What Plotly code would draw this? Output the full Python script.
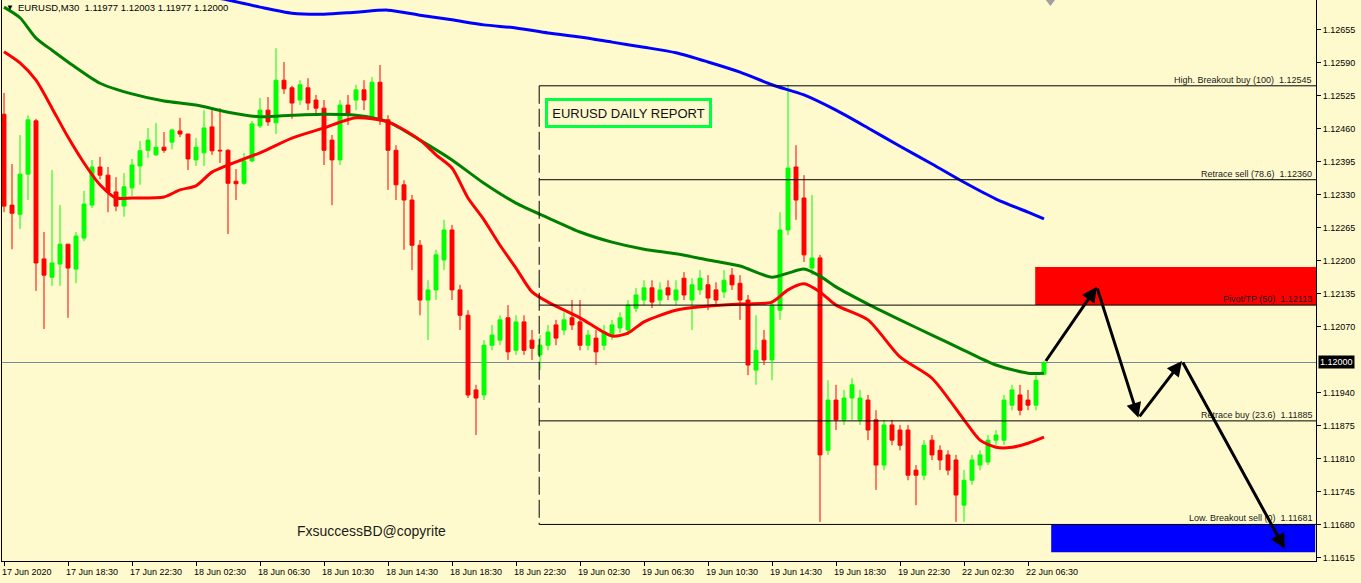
import plotly.graph_objects as go

# ---------------- data ----------------
bars = list(range(131))
tick_bars = [0, 8, 16, 24, 32, 40, 48, 56, 64, 72, 80, 88, 96, 104, 112, 120, 128]
tick_labels = ["17 Jun 2020", "17 Jun 18:30", "17 Jun 22:30", "18 Jun 02:30", "18 Jun 06:30",
               "18 Jun 10:30", "18 Jun 14:30", "18 Jun 18:30", "18 Jun 22:30", "19 Jun 02:30",
               "19 Jun 06:30", "19 Jun 10:30", "19 Jun 14:30", "19 Jun 18:30", "19 Jun 22:30",
               "22 Jun 02:30", "22 Jun 06:30"]
price_ticks = [1.12655, 1.12590, 1.12525, 1.12460, 1.12395, 1.12330, 1.12265, 1.12200, 1.12135,
               1.12070, 1.11940, 1.11875, 1.11810, 1.11745, 1.11680, 1.11615]

opens = [1.12489, 1.12310, 1.12292, 1.12371, 1.12476, 1.12204, 1.12168, 1.12194, 1.12233, 1.12184,
         1.12245, 1.12310, 1.12385, 1.12369, 1.12336, 1.12308, 1.12344, 1.12387, 1.12418, 1.12409,
         1.12424, 1.12434, 1.12456, 1.12450, 1.12399, 1.12413, 1.12464, 1.12418, 1.12418, 1.12357,
         1.12353, 1.12397, 1.12466, 1.12497, 1.12472, 1.12556, 1.12541, 1.12517, 1.12541, 1.12517,
         1.12501, 1.12438, 1.12399, 1.12507, 1.12517, 1.12537, 1.12482, 1.12552, 1.12478, 1.12418,
         1.12350, 1.12320, 1.12231, 1.12123, 1.12143, 1.12202, 1.12261, 1.12143, 1.12093, 1.11946,
         1.11936, 1.12034, 1.12044, 1.12088, 1.12024, 1.12080, 1.12044, 1.12015, 1.12034, 1.12074,
         1.12064, 1.12088, 1.12080, 1.12034, 1.12048, 1.12034, 1.12054, 1.12068, 1.12064, 1.12107,
         1.12123, 1.12147, 1.12123, 1.12147, 1.12123, 1.12166, 1.12123, 1.12143, 1.12153, 1.12143,
         1.12139, 1.12172, 1.12156, 1.12123, 1.11985, 1.12044, 1.12005, 1.12103, 1.12261, 1.12385,
         1.12324, 1.12186, 1.12206, 1.11827, 1.11926, 1.11887, 1.11930, 1.11887, 1.11926, 1.11887,
         1.11798, 1.11877, 1.11867, 1.11867, 1.11788, 1.11778, 1.11847, 1.11827, 1.11818, 1.11808,
         1.11719, 1.11768, 1.11798, 1.11804, 1.11847, 1.11847, 1.11916, 1.11936, 1.11926, 1.11916,
         1.11977]
highs = [1.12531, 1.12391, 1.12448, 1.12487, 1.12480, 1.12257, 1.12379, 1.12310, 1.12233, 1.12257,
         1.12338, 1.12399, 1.12405, 1.12385, 1.12365, 1.12373, 1.12401, 1.12436, 1.12462, 1.12472,
         1.12454, 1.12460, 1.12482, 1.12450, 1.12442, 1.12497, 1.12497, 1.12501, 1.12420, 1.12381,
         1.12413, 1.12476, 1.12521, 1.12523, 1.12619, 1.12592, 1.12545, 1.12556, 1.12560, 1.12527,
         1.12517, 1.12448, 1.12517, 1.12527, 1.12547, 1.12556, 1.12562, 1.12586, 1.12487, 1.12428,
         1.12359, 1.12330, 1.12241, 1.12162, 1.12222, 1.12281, 1.12271, 1.12153, 1.12103, 1.11956,
         1.12044, 1.12074, 1.12093, 1.12113, 1.12093, 1.12093, 1.12064, 1.12054, 1.12074, 1.12084,
         1.12099, 1.12123, 1.12123, 1.12064, 1.12064, 1.12074, 1.12084, 1.12099, 1.12123, 1.12147,
         1.12162, 1.12162, 1.12158, 1.12162, 1.12162, 1.12178, 1.12166, 1.12182, 1.12172, 1.12158,
         1.12182, 1.12186, 1.12172, 1.12133, 1.12093, 1.12064, 1.12123, 1.12296, 1.12547, 1.12428,
         1.12369, 1.12330, 1.12212, 1.11965, 1.11956, 1.11946, 1.11969, 1.11946, 1.11936, 1.11906,
         1.11887, 1.11887, 1.11877, 1.11877, 1.11798, 1.11847, 1.11857, 1.11837, 1.11827, 1.11818,
         1.11788, 1.11818, 1.11827, 1.11857, 1.11867, 1.11936, 1.11956, 1.11956, 1.11946, 1.11975,
         1.12003]
lows = [1.12296, 1.12223, 1.12263, 1.12320, 1.12141, 1.12066, 1.12151, 1.12151, 1.12088, 1.12156,
        1.12239, 1.12304, 1.12361, 1.12296, 1.12298, 1.12287, 1.12328, 1.12350, 1.12403, 1.12407,
        1.12413, 1.12420, 1.12444, 1.12379, 1.12387, 1.12387, 1.12409, 1.12393, 1.12253, 1.12320,
        1.12350, 1.12395, 1.12462, 1.12466, 1.12450, 1.12529, 1.12480, 1.12507, 1.12497, 1.12487,
        1.12389, 1.12310, 1.12389, 1.12468, 1.12497, 1.12497, 1.12478, 1.12468, 1.12340, 1.12320,
        1.12222, 1.12182, 1.12093, 1.12044, 1.12123, 1.12182, 1.12123, 1.12064, 1.11930, 1.11857,
        1.11926, 1.12024, 1.12034, 1.12005, 1.12015, 1.12015, 1.12005, 1.11985, 1.12024, 1.12034,
        1.12054, 1.12064, 1.12024, 1.12024, 1.11995, 1.12024, 1.12044, 1.12058, 1.12054, 1.12099,
        1.12113, 1.12107, 1.12113, 1.12123, 1.12113, 1.12123, 1.12064, 1.12133, 1.12103, 1.12113,
        1.12127, 1.12143, 1.12084, 1.11975, 1.11956, 1.11995, 1.11965, 1.12084, 1.12251, 1.12281,
        1.12198, 1.12172, 1.11686, 1.11818, 1.11867, 1.11877, 1.11887, 1.11877, 1.11847, 1.11749,
        1.11788, 1.11837, 1.11827, 1.11768, 1.11719, 1.11768, 1.11808, 1.11788, 1.11778, 1.11686,
        1.11686, 1.11759, 1.11788, 1.11798, 1.11837, 1.11837, 1.11906, 1.11896, 1.11906, 1.11906,
        1.11977]
closes = [1.12308, 1.12294, 1.12371, 1.12478, 1.12196, 1.12172, 1.12196, 1.12233, 1.12186, 1.12249,
          1.12312, 1.12385, 1.12369, 1.12336, 1.12308, 1.12346, 1.12389, 1.12417, 1.12438, 1.12424,
          1.12418, 1.12458, 1.12450, 1.12401, 1.12424, 1.12462, 1.12417, 1.12417, 1.12353, 1.12352,
          1.12397, 1.12470, 1.12497, 1.12474, 1.12556, 1.12539, 1.12511, 1.12547, 1.12511, 1.12501,
          1.12418, 1.12399, 1.12507, 1.12487, 1.12537, 1.12517, 1.12552, 1.12478, 1.12418, 1.12350,
          1.12320, 1.12231, 1.12123, 1.12143, 1.12212, 1.12261, 1.12143, 1.12093, 1.11936, 1.11930,
          1.12034, 1.12054, 1.12084, 1.12021, 1.12080, 1.12024, 1.12028, 1.12034, 1.12060, 1.12048,
          1.12084, 1.12074, 1.12034, 1.12054, 1.12021, 1.12060, 1.12074, 1.12088, 1.12113, 1.12133,
          1.12147, 1.12119, 1.12143, 1.12133, 1.12143, 1.12133, 1.12153, 1.12166, 1.12127, 1.12123,
          1.12162, 1.12153, 1.12123, 1.11995, 1.12024, 1.12005, 1.12113, 1.12261, 1.12383, 1.12320,
          1.12212, 1.12206, 1.11818, 1.11926, 1.11887, 1.11930, 1.11956, 1.11930, 1.11867, 1.11798,
          1.11877, 1.11847, 1.11837, 1.11778, 1.11778, 1.11837, 1.11818, 1.11808, 1.11788, 1.11739,
          1.11768, 1.11808, 1.11818, 1.11847, 1.11857, 1.11926, 1.11946, 1.11906, 1.11916, 1.11965,
          1.12000]

red_ma_bars = [0, 2, 4, 6, 8, 10, 12, 14, 16, 20, 22, 24, 26, 28, 32, 36, 40, 44, 48, 52, 54, 56, 58,
               60, 62, 64, 66, 68, 72, 76, 78, 80, 84, 88, 92, 96, 98, 100, 102, 104, 108, 112, 116,
               120, 122, 124, 126, 128, 130]
red_ma = [1.12612, 1.12590, 1.12556, 1.12501, 1.12444, 1.12393, 1.12350, 1.12324, 1.12324, 1.12326,
          1.12340, 1.12348, 1.12375, 1.12389, 1.12413, 1.12442, 1.12462, 1.12482, 1.12474, 1.12438,
          1.12409, 1.12383, 1.12324, 1.12281, 1.12231, 1.12186, 1.12139, 1.12119, 1.12088, 1.12052,
          1.12058, 1.12080, 1.12103, 1.12111, 1.12115, 1.12119, 1.12143, 1.12155, 1.12139, 1.12113,
          1.12084, 1.12011, 1.11969, 1.11887, 1.11847, 1.11833, 1.11833, 1.11841, 1.11853]
green_ma_bars = [0, 2, 4, 6, 8, 12, 16, 20, 24, 28, 32, 36, 40, 44, 48, 52, 56, 60, 64, 68, 72, 76, 80,
                 84, 88, 92, 96, 98, 100, 102, 104, 108, 112, 116, 120, 124, 128, 130]
green_ma = [1.12700, 1.12679, 1.12639, 1.12615, 1.12592, 1.12550, 1.12529, 1.12515, 1.12507, 1.12493,
            1.12484, 1.12487, 1.12489, 1.12487, 1.12474, 1.12438, 1.12399, 1.12353, 1.12314, 1.12285,
            1.12257, 1.12237, 1.12223, 1.12214, 1.12202, 1.12190, 1.12168, 1.12176, 1.12184, 1.12170,
            1.12149, 1.12115, 1.12084, 1.12054, 1.12024, 1.11995, 1.11979, 1.11979]
blue_ma_bars = [0, 8, 16, 24, 28, 32, 36, 40, 44, 48, 52, 56, 60, 64, 68, 72, 76, 80, 84, 88, 92, 96,
                100, 104, 108, 112, 116, 120, 124, 128, 130]
blue_ma = [1.12793, 1.12773, 1.12753, 1.12726, 1.12714, 1.12700, 1.12688, 1.12686, 1.12690, 1.12694,
           1.12684, 1.12675, 1.12665, 1.12659, 1.12649, 1.12641, 1.12631, 1.12621, 1.12610, 1.12592,
           1.12572, 1.12547, 1.12527, 1.12497, 1.12462, 1.12426, 1.12391, 1.12355, 1.12322, 1.12296,
           1.12283]

fib_levels = [1.12545, 1.12360, 1.12113, 1.11885, 1.11681]
fib_names = ["High. Breakout buy (100)", "Retrace sell (78.6)", "Pivot/TP (50)",
             "Retrace buy (23.6)", "Low. Breakout sell (0)"]
fib_start_bar = 66.9

sell_zone_bars = [128.9, 164.0]
sell_zone_prices = [1.12113, 1.12188]
buy_zone_bars = [130.9, 163.9]
buy_zone_prices = [1.11626, 1.11681]

path_bars = [130.1, 136.6, 141.8, 147.25, 160.1]
path_prices = [1.12000, 1.12149, 1.11891, 1.12003, 1.11633]

bid_price = 1.12000
header = "EURUSD,M30  1.11977 1.12003 1.11977 1.12000"
report_text = "EURUSD DAILY REPORT"
report_pos = (78.06, 1.12491)
copyright_text = "FxsuccessBD@copyrite"
copyright_pos = (45.9, 1.11668)

X_RANGE = [-0.25, 164.0]
Y_RANGE = [1.11609, 1.12714]

BG = "#FFFACD"
FONT = "Liberation Sans"

# ---------------- figure ----------------
fig = go.Figure()

fig.add_trace(go.Candlestick(
    x=bars, open=opens, high=highs, low=lows, close=closes,
    increasing=dict(line=dict(color="#00FF00", width=1), fillcolor="#00FF00"),
    decreasing=dict(line=dict(color="#FF0000", width=1), fillcolor="#FF0000"),
    whiskerwidth=0, showlegend=False, hoverinfo="skip"))

for xs, ys, col in [(blue_ma_bars, blue_ma, "#0000FF"),
                    (green_ma_bars, green_ma, "#008000"),
                    (red_ma_bars, red_ma, "#FF0000")]:
    fig.add_trace(go.Scatter(x=xs, y=ys, mode="lines",
                             line=dict(color=col, width=3, shape="spline", smoothing=0.7),
                             showlegend=False, hoverinfo="skip"))

# shift marker at the top
fig.add_trace(go.Scatter(x=[130.8], y=[Y_RANGE[1]], mode="markers",
                         marker=dict(symbol="triangle-down", size=12, color="#A0A0A0"),
                         cliponaxis=False, showlegend=False, hoverinfo="skip"))

shapes = []
shapes.append(dict(type="rect", xref="x", yref="y", x0=sell_zone_bars[0], x1=sell_zone_bars[1],
                   y0=sell_zone_prices[0], y1=sell_zone_prices[1], fillcolor="#FF0000",
                   line=dict(width=0), layer="below"))
shapes.append(dict(type="rect", xref="x", yref="y", x0=buy_zone_bars[0], x1=buy_zone_bars[1],
                   y0=buy_zone_prices[0], y1=buy_zone_prices[1], fillcolor="#0000FF",
                   line=dict(width=0), layer="below"))
shapes.append(dict(type="line", xref="paper", yref="y", x0=0, x1=1, y0=bid_price, y1=bid_price,
                   line=dict(color="#778899", width=1), layer="below"))
for lv in fib_levels:
    shapes.append(dict(type="line", xref="x", yref="y", x0=fib_start_bar, x1=X_RANGE[1],
                       y0=lv, y1=lv, line=dict(color="#000000", width=1)))
shapes.append(dict(type="line", xref="x", yref="y", x0=fib_start_bar, x1=fib_start_bar,
                   y0=fib_levels[0], y1=fib_levels[-1],
                   line=dict(color="#000000", width=1, dash="18px,5px")))
fig.update_layout(shapes=shapes)

ann = []
for lv, nm in zip(fib_levels, fib_names):
    ann.append(dict(x=X_RANGE[1], y=lv, xref="x", yref="y", xanchor="right", yanchor="bottom",
                    text=f"{nm}  {lv:.5f}", showarrow=False, xshift=-2, yshift=-1,
                    font=dict(family=FONT, size=9, color="#1a1a1a")))
for i in range(len(path_bars) - 1):
    ann.append(dict(x=path_bars[i + 1], y=path_prices[i + 1], ax=path_bars[i], ay=path_prices[i],
                    xref="x", yref="y", axref="x", ayref="y", text="", showarrow=True,
                    arrowhead=2, arrowsize=1, arrowwidth=3, arrowcolor="#000000"))
ann.append(dict(x=report_pos[0], y=report_pos[1], xref="x", yref="y", text=report_text,
                showarrow=False, font=dict(family=FONT, size=13, color="#111111"),
                bordercolor="#00FF40", borderwidth=3, borderpad=2, width=157, height=20))
ann.append(dict(x=copyright_pos[0], y=copyright_pos[1], xref="x", yref="y", text=copyright_text,
                showarrow=False, font=dict(family=FONT, size=14, color="#1a1a1a")))
ann.append(dict(x=1, y=bid_price, xref="paper", yref="y", xanchor="left", yanchor="middle",
                text=f"{bid_price:.5f}", showarrow=False, bgcolor="#000000",
                font=dict(family=FONT, size=9, color="#FFFFFF"), borderpad=1, xshift=2))
ann.append(dict(x=0.0015, y=0.987, xref="paper", yref="paper", xanchor="left", yanchor="middle",
                text="▼", showarrow=False, font=dict(family=FONT, size=8, color="#000000")))
ann.append(dict(x=0.011, y=0.986, xref="paper", yref="paper", xanchor="left", yanchor="middle",
                text=header, showarrow=False, font=dict(family=FONT, size=9.5, color="#000000")))
fig.update_layout(annotations=ann)

fig.update_layout(
    width=1361, height=583,
    margin=dict(l=2, r=45, t=0, b=22),
    paper_bgcolor=BG, plot_bgcolor=BG,
    font=dict(family=FONT, size=9, color="#000000"),
    showlegend=False, hovermode=False,
    xaxis=dict(range=X_RANGE, rangeslider=dict(visible=False), showgrid=False, zeroline=False,
               tickmode="array", tickvals=tick_bars, ticktext=tick_labels,
               ticks="outside", ticklen=4, tickcolor="#000000", ticklabelposition="outside right",
               ticklabelshift=-3, ticklabelstandoff=2,
               showline=True, linecolor="#000000", linewidth=1, mirror=True,
               tickfont=dict(family=FONT, size=9, color="#000000")),
    yaxis=dict(range=Y_RANGE, side="right", showgrid=False, zeroline=False,
               tickmode="array", tickvals=price_ticks, ticktext=[f"{v:.5f}" for v in price_ticks],
               ticks="outside", ticklen=4, tickcolor="#000000",
               showline=True, linecolor="#000000", linewidth=1, mirror=True,
               tickfont=dict(family=FONT, size=9, color="#000000")),
)

fig.write_html("out.html", config={"displayModeBar": False},
               post_script="document.body.style.margin='0';document.body.style.overflow='hidden';")
